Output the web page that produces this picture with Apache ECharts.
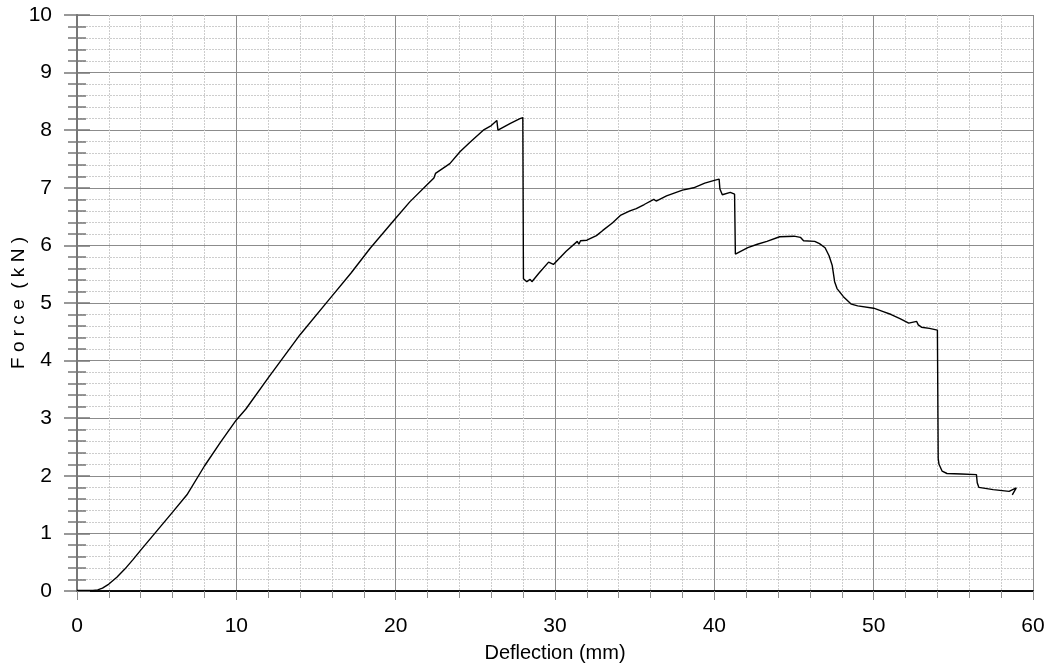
<!DOCTYPE html>
<html>
<head>
<meta charset="utf-8">
<script src="https://cdn.jsdelivr.net/npm/echarts@6/dist/echarts.min.js"></script>
<style>
    html, body { margin: 0; padding: 0; background: #fff; }
    #chart { width: 1047px; height: 671px; }
</style>
</head>
<body>
<div id="chart"></div>
<script>
// deflection (mm)
var deflection = [
    0, 0.5, 1.0, 1.3, 1.6, 2.0, 2.5, 3.0, 3.5, 4.0,
    5.0, 6.0, 6.9, 8.0, 9.0, 10.0, 10.6, 12.0, 14.0, 15.7,
    16.0, 17.2, 18.4, 20.0, 20.9, 22.0, 22.4, 22.5, 23.4, 24.05,
    24.7, 25.5, 26.0, 26.35, 26.42, 27.2, 27.8, 27.98, 28.02, 28.23,
    28.44, 28.55, 29.0, 29.6, 29.9, 30.0, 30.7, 31.4, 31.5, 31.6,
    32.0, 32.6, 33.0, 33.6, 34.1, 34.7, 35.1, 35.6, 36.2, 36.35,
    37.0, 38.0, 38.7, 39.4, 40.0, 40.3, 40.35, 40.5, 40.6, 41.0,
    41.27, 41.32, 41.4, 42.1, 42.7, 43.3, 44.1, 45.0, 45.4, 45.6,
    46.3, 46.6, 46.95, 47.2, 47.4, 47.55, 47.7, 48.1, 48.6, 49.0,
    50.0, 50.6, 51.1, 51.65, 52.2, 52.7, 52.8, 53.0, 53.5, 54.0,
    54.05, 54.1, 54.3, 54.6, 55.5, 56.45, 56.5, 56.6, 57.5, 58.5,
    58.95, 58.7
];
// force (kN)
var force = [
    0.01, 0.01, 0.01, 0.02, 0.05, 0.12, 0.24, 0.38, 0.54, 0.71,
    1.04, 1.37, 1.67, 2.17, 2.58, 2.97, 3.16, 3.7, 4.45, 5.02,
    5.12, 5.52, 5.95, 6.47, 6.76, 7.06, 7.17, 7.25, 7.42, 7.63,
    7.8, 8.0, 8.08, 8.17, 8.0, 8.12, 8.2, 8.22, 5.42, 5.37,
    5.41, 5.37, 5.52, 5.71, 5.67, 5.68, 5.9, 6.07, 6.02, 6.08,
    6.09, 6.17, 6.26, 6.39, 6.52, 6.6, 6.64, 6.71, 6.8, 6.77,
    6.86, 6.96, 7.0, 7.08, 7.13, 7.15, 6.98, 6.88, 6.87, 6.92,
    6.89, 5.85, 5.84, 5.96, 6.02, 6.07, 6.15, 6.16, 6.14, 6.08,
    6.07, 6.03, 5.96, 5.82, 5.65, 5.37, 5.25, 5.11, 4.98, 4.95,
    4.91, 4.85, 4.8, 4.73, 4.65, 4.68, 4.62, 4.58, 4.56, 4.53,
    2.3, 2.2, 2.08, 2.04, 2.03, 2.02, 1.88, 1.8, 1.76, 1.73,
    1.79, 1.67
];
// axis ranges / tick steps
var xRange = [0, 60], xStep = 10;
var yRange = [0, 10], yStep = 1;

var points = deflection.map(function (d, i) {
    return [d, force[i]];
});

var font = '"Liberation Sans", Arial, sans-serif';
var majorGrid = {show: true, lineStyle: {color: '#8c8c8c', width: 1}};
var minorGrid = {show: true, lineStyle: {color: '#cdcdcd', width: 1, type: [2, 1]}};

var chart = echarts.init(document.getElementById('chart'), null, {renderer: 'canvas'});
chart.setOption({
    animation: false,
    backgroundColor: '#fff',
    grid: {left: 77, right: 14, top: 15, bottom: 80, containLabel: false, outerBoundsMode: 'none'},
    xAxis: [
        {
            type: 'value', min: xRange[0], max: xRange[1], interval: xStep,
            name: 'Deflection (mm)', nameLocation: 'middle', nameGap: 52, nameMoveOverlap: false,
            nameTextStyle: {fontFamily: font, fontSize: 20, color: '#000'},
            axisLine: {onZero: false, lineStyle: {color: '#000', width: 1.5}},
            axisTick: {length: 9, lineStyle: {color: '#8c8c8c'}},
            minorTick: {show: true, splitNumber: 5, length: 7, lineStyle: {color: '#8c8c8c'}},
            axisLabel: {fontFamily: font, fontSize: 21, color: '#000', margin: 25},
            splitLine: majorGrid,
            minorSplitLine: minorGrid
        },
        {
            type: 'value', min: xRange[0], max: xRange[1], position: 'top',
            axisLine: {show: true, lineStyle: {color: '#000', width: 1.5}},
            axisTick: {show: false}, axisLabel: {show: false}, splitLine: {show: false}
        }
    ],
    yAxis: [
        {
            type: 'value', min: yRange[0], max: yRange[1], interval: yStep,
            name: 'F o r c e  ( k N )', nameLocation: 'middle', nameGap: 49, nameMoveOverlap: false,
            nameTextStyle: {fontFamily: font, fontSize: 19, color: '#000'},
            axisLine: {show: true, onZero: false, lineStyle: {color: '#777', width: 2}},
            axisTick: {show: true, length: 13, lineStyle: {color: '#777', width: 1.5}},
            minorTick: {show: true, splitNumber: 5, length: 9, lineStyle: {color: '#777', width: 1.5}},
            axisLabel: {fontFamily: font, fontSize: 21, color: '#000', margin: 25},
            splitLine: majorGrid,
            minorSplitLine: minorGrid
        },
        {
            // same axis again, ticks pointing inward so they cross the axis line
            type: 'value', min: yRange[0], max: yRange[1], interval: yStep, position: 'left', offset: 0,
            axisLine: {show: false},
            axisTick: {show: true, inside: true, length: 13, lineStyle: {color: '#777', width: 1.5}},
            minorTick: {show: true, splitNumber: 5, length: 9, lineStyle: {color: '#777', width: 1.5}},
            axisLabel: {show: false}, splitLine: {show: false}
        },
        {
            type: 'value', min: yRange[0], max: yRange[1], position: 'right',
            axisLine: {show: true, lineStyle: {color: '#777', width: 1.5}},
            axisTick: {show: false}, axisLabel: {show: false}, splitLine: {show: false}
        }
    ],
    series: [
        {
            type: 'line',
            data: points,
            showSymbol: false,
            lineStyle: {color: '#000', width: 1.4},
            z: 5
        }
    ]
});
</script>
</body>
</html>
